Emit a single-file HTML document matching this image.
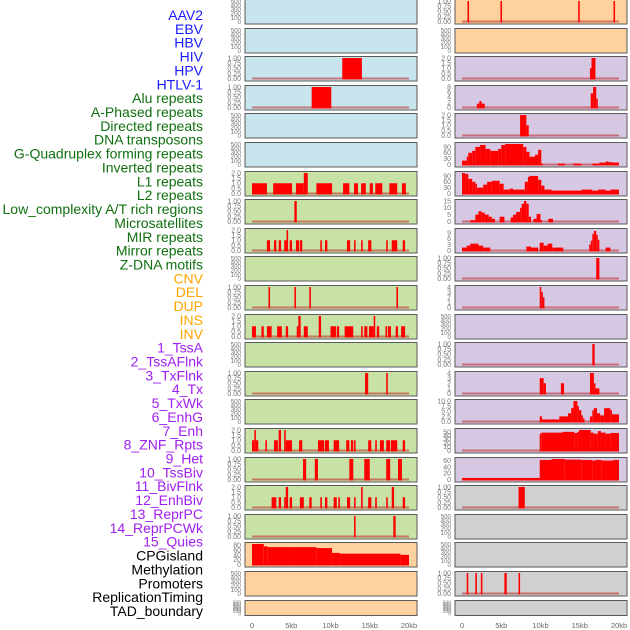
<!DOCTYPE html>
<html><head><meta charset="utf-8">
<style>
html,body{margin:0;padding:0;background:#fff;}
svg{display:block;font-family:"Liberation Sans",sans-serif;}
</style></head>
<body>
<svg id="chart" width="630" height="630" viewBox="0 0 630 630" xmlns="http://www.w3.org/2000/svg">
<g id="labels"></g>
<g id="panels"></g>
<g id="xaxes"></g>
</svg>
<script>
// ---- data ----
const trackLabels = ["AAV2","EBV","HBV","HIV","HPV","HTLV-1","Alu repeats","A-Phased repeats","Directed repeats","DNA transposons","G-Quadruplex forming repeats","Inverted repeats","L1 repeats","L2 repeats","Low_complexity A/T rich regions","Microsatellites","MIR repeats","Mirror repeats","Z-DNA motifs","CNV","DEL","DUP","INS","INV","1_TssA","2_TssAFlnk","3_TxFlnk","4_Tx","5_TxWk","6_EnhG","7_Enh","8_ZNF_Rpts","9_Het","10_TssBiv","11_BivFlnk","12_EnhBiv","13_ReprPC","14_ReprPCWk","15_Quies","CPGisland","Methylation","Promoters","ReplicationTiming","TAD_boundary"];
const labelColors = ["#1a1aff","#1a1aff","#1a1aff","#1a1aff","#1a1aff","#1a1aff","#107010","#107010","#107010","#107010","#107010","#107010","#107010","#107010","#107010","#107010","#107010","#107010","#107010","#ffa500","#ffa500","#ffa500","#ffa500","#ffa500","#a020f0","#a020f0","#a020f0","#a020f0","#a020f0","#a020f0","#a020f0","#a020f0","#a020f0","#a020f0","#a020f0","#a020f0","#a020f0","#a020f0","#a020f0","#000","#000","#000","#000","#000"];
const xTickValues = [0,5,10,15,20];
const xTickLabels = ["0","5kb","10kb","15kb","20kb"];

const tickE = [0,100,200,300,400,500], tickEL = ["0","100","200","300","400","500"];
const tickU1 = [0,0.25,0.5,0.75,1], tickU1L = ["0.00","0.25","0.50","0.75","1.00"];
const tickU2 = [0,0.5,1,1.5,2], tickU2L = ["0.0","0.5","1.0","1.5","2.0"];
const tickU8 = [0,2,4,6,8], tickU8L = ["0","2","4","6","8"];
const tickU90 = [0,30,60,90], tickU90L = ["0","30","60","90"];
const tickU15 = [0,5,10,15], tickU15L = ["0","5","10","15"];
const tickU9 = [0,3,6,9], tickU9L = ["0","3","6","9"];
const tickU4 = [0,1,2,3,4], tickU4L = ["0","1","2","3","4"];
const tickU10 = [0,2.5,5,7.5,10], tickU10L = ["0.0","2.5","5.0","7.5","10.0"];
const tickU50 = [0,10,20,30,40,50], tickU50L = ["0","10","20","30","40","50"];
const tickU60 = [0,20,40,60], tickU60L = ["0","20","40","60"];
const tickU80 = [0,20,40,60,80], tickU80L = ["0","20","40","60","80"];

// segments: [startKb, endKb, value]
const segHBV = [[11.5,14.0,1]];
const segHIV = [[7.6,10.1,1]];
const segL6 = [[0,1.9,1],[2.7,5.1,1],[5.6,6.6,1],[6.6,7.1,2],[8.2,10.2,1],[11.6,12.4,1],[13,13.5,1],[13.9,14.5,1],[15,15.4,1],[15.7,16.6,1],[17.5,18.5,1],[19.1,19.6,1]];
const segL7 = [[5.4,5.7,1]];
const segL8 = [[1.9,2.3,1],[2.8,3.1,1],[3.4,3.7,1],[4.1,4.4,1],[4.4,4.6,2],[4.8,5.1,1],[5.6,6.0,1],[6.1,6.4,1],[8.7,8.9,1],[9.3,9.6,1],[12.1,12.5,1],[13,13.2,1],[13.9,14.1,1],[14.8,15.2,1],[17.1,17.3,1],[17.8,18.5,1],[19.2,19.5,1]];
const segL10 = [[2.1,2.3,1],[5.4,5.6,1],[7.3,7.5,1],[18.4,18.6,1]];
const segL11 = [[0,0.5,1],[1.2,1.5,1],[1.9,2.5,1],[3.2,3.8,1],[4.3,4.6,1],[5.7,5.9,1],[5.9,6.2,2],[6.6,7.1,1],[8.5,8.8,2],[10,10.7,1],[10.8,11.1,1],[11.8,12.9,1],[13.9,14.1,1],[14.3,14.7,1],[14.9,15.5,1],[15.5,15.7,2],[15.9,16.2,1],[17,17.2,1],[17.3,17.7,1],[18.3,18.6,1],[19,19.5,1]];
const segL13 = [[14.4,14.8,1],[17.1,17.3,1]];
const segL15 = [[0,0.3,1],[0.3,0.5,2],[0.5,0.8,1],[1.7,1.9,1],[2.8,3.3,1],[3.4,3.7,2],[4.1,4.3,2],[4.3,5.1,1],[6,6.4,1],[8.4,9.2,1],[9.3,9.8,1],[10.4,11.1,1],[12,12.4,1],[12.6,12.9,1],[13,13.2,1],[14.8,15.2,1],[15.7,15.9,1],[16.3,16.8,1],[17.1,17.6,1],[17.7,18.5,1],[19.2,19.5,1]];
const segL16 = [[6.5,6.9,1],[8,8.4,1],[12.4,12.9,1],[14.3,15,1],[17.1,17.6,1],[18.6,19.1,1]];
const segL17 = [[2.5,3.1,1],[3.4,3.7,1],[4.1,4.3,1],[4.3,4.6,2],[4.8,5.1,1],[6.1,6.6,1],[7.3,7.6,1],[8.7,8.9,1],[9.3,9.6,1],[10.4,10.8,1],[11,11.2,1],[12.1,12.5,1],[13,13.2,1],[13.9,14.1,2],[14.8,15.2,1],[15.7,15.9,1],[17.1,17.3,1],[17.8,18.1,2],[19.2,19.5,1]];
const segL18 = [[13,13.2,1],[18,18.3,1]];
const segL19 = [[0,1.5,85],[1.5,2,75],[2,4.9,72],[4.9,8.2,72],[8.2,10.2,68],[10.2,11.2,48],[11.2,18.9,45],[18.9,20,40]];

const segR0 = [[0.7,0.9,1],[4.9,5.1,1],[14.8,15.0,1],[19.3,19.5,1]];
const segR2 = [[16.3,16.5,1],[16.5,17,2]];
const segR3 = [[1.9,2.2,1.5],[2.2,2.5,2.5],[2.5,2.9,1.5],[16.4,16.7,5.5],[16.7,17.1,8],[17.1,17.3,3.5]];
const segR4 = [[7.4,8.2,2],[8.2,8.5,1]];
const segR5 = [[0,0.6,20],[0.6,0.8,40],[0.8,1.3,60],[1.3,1.7,70],[1.7,2.3,90],[2.3,3,100],[3,3.6,80],[3.6,4.6,70],[4.6,5,80],[5,5.5,100],[5.5,7.8,105],[7.8,8.2,90],[8.2,8.6,65],[8.6,9.3,40],[9.3,9.7,50],[9.7,10.1,75],[10.1,10.3,5],[12.2,13.1,5],[14.2,15.2,5],[16.6,17.5,5],[17.5,18.3,10],[18.3,18.7,15],[18.7,19.2,12],[19.2,20,10]];
const segR6 = [[0,0.4,105],[0.4,0.8,100],[0.8,1.3,75],[1.3,1.7,60],[1.7,1.9,50],[1.9,2.7,30],[2.7,3.2,45],[3.2,3.8,60],[3.8,4.8,65],[4.8,5.3,50],[5.3,6.1,20],[6.1,6.5,25],[6.5,8,20],[8,8.4,60],[8.4,8.6,85],[8.6,9.7,90],[9.7,10.1,70],[10.1,10.5,40],[10.5,11.4,20],[11.4,15.2,15],[15.2,16.6,20],[16.6,17.3,15],[17.3,18.3,20],[18.3,18.9,15],[18.9,20,20]];
const segR7 = [[1.05,1.7,1],[1.7,2.1,5],[2.1,2.5,7.5],[2.5,2.9,6.5],[2.9,3.4,5],[3.4,3.8,3.5],[3.8,4.2,2],[4.8,5.4,3.5],[6.2,6.5,3],[6.5,6.9,5],[6.9,7.4,7],[7.4,7.6,10],[7.6,7.9,13],[7.9,8.2,15],[8.2,8.5,13],[8.5,8.8,3.5],[9.1,9.5,2],[9.5,10,5.5],[10,10.1,1],[11,11.6,2]];
const segR8 = [[0,0.6,1.5],[0.6,1.05,2.5],[1.05,2.1,3.5],[2.1,2.7,2.5],[2.7,3.6,1.5],[8.2,8.8,2],[8.8,9.7,1.5],[9.9,10.4,4],[10.4,10.9,2.5],[10.9,11.5,3.5],[11.5,12.9,1.5],[16.2,16.4,3],[16.4,16.6,5],[16.6,16.8,8.5],[16.8,17.1,10],[17.1,17.3,8],[17.3,17.5,5.5],[18.3,18.9,1.5]];
const segR9 = [[17.1,17.5,1]];
const segR10 = [[9.9,10.1,4],[10.1,10.3,3],[10.3,10.5,2]];
const segR12 = [[16.6,16.9,1]];
const segR13 = [[9.9,10.4,3],[10.4,10.7,2],[12.6,13,2],[16.3,16.8,4],[16.8,17,2],[17,17.5,1]];
const segR14 = [[9.9,10.2,2.5],[10.2,12.4,1],[12.4,13.5,2.5],[13.5,13.9,4],[13.9,14.2,6.5],[14.2,14.7,10],[14.7,14.9,7.5],[14.9,15.2,5.5],[15.2,15.4,3],[15.4,15.6,1.5],[16.3,16.6,2.5],[16.6,16.8,5.5],[16.8,17.2,6.5],[17.2,17.6,4],[17.6,18.1,3],[18.1,18.9,6.5],[18.9,19.1,5.5],[19.1,20,3.5]];
const segR15 = [[9.9,10.1,45],[10.1,12.8,48],[12.8,14.3,50],[14.3,14.7,47],[14.7,14.9,50],[14.9,16.4,55],[16.4,16.8,48],[16.8,17.3,45],[17.3,17.7,52],[17.7,18.3,48],[18.3,18.9,45],[18.9,20,47]];
const segR16 = [[0,9.9,5],[9.9,11.4,62],[11.4,13.1,65],[13.1,15.2,63],[15.2,16.6,62],[16.6,17.0,60],[17.0,17.8,62],[17.8,19.3,60],[19.3,20,62]];
const segR17 = [[7.2,8.0,1]];
const segR20 = [[0.6,0.8,1],[1.7,1.9,1],[2.4,2.6,1],[5.4,5.7,1],[7.2,7.4,1]];

const BLUE="#c8e4ec", GREEN="#c8e2a6", ORANGE="#ffd19e", PURPLE="#d6c7e3", GRAY="#d0d0d0";
const leftPanels = [
 [BLUE,tickE,tickEL,500,null],[BLUE,tickE,tickEL,500,null],
 [BLUE,tickU1,tickU1L,1,segHBV],[BLUE,tickU1,tickU1L,1,segHIV],
 [BLUE,tickE,tickEL,500,null],[BLUE,tickE,tickEL,500,null],
 [GREEN,tickU2,tickU2L,2,segL6],[GREEN,tickU1,tickU1L,1,segL7],[GREEN,tickU2,tickU2L,2,segL8],
 [GREEN,tickE,tickEL,500,null],[GREEN,tickU1,tickU1L,1,segL10],[GREEN,tickU2,tickU2L,2,segL11],
 [GREEN,tickE,tickEL,500,null],[GREEN,tickU1,tickU1L,1,segL13],[GREEN,tickE,tickEL,500,null],
 [GREEN,tickU2,tickU2L,2,segL15],[GREEN,tickU1,tickU1L,1,segL16],[GREEN,tickU2,tickU2L,2,segL17],
 [GREEN,tickU1,tickU1L,1,segL18],[ORANGE,tickU80,tickU80L,85,segL19],
 [ORANGE,tickE,tickEL,500,null],[ORANGE,tickE,tickEL,500,null]
];
const rightPanels = [
 [ORANGE,tickU1,tickU1L,1,segR0],[ORANGE,tickE,tickEL,500,null],
 [PURPLE,tickU2,tickU2L,2,segR2],[PURPLE,tickU8,tickU8L,8,segR3],[PURPLE,tickU2,tickU2L,2,segR4],
 [PURPLE,tickU90,tickU90L,105,segR5],[PURPLE,tickU90,tickU90L,105,segR6],[PURPLE,tickU15,tickU15L,15,segR7],
 [PURPLE,tickU9,tickU9L,10.5,segR8],[PURPLE,tickU1,tickU1L,1,segR9],[PURPLE,tickU4,tickU4L,4,segR10],
 [PURPLE,tickE,tickEL,500,null],[PURPLE,tickU1,tickU1L,1,segR12],[PURPLE,tickU4,tickU4L,4,segR13],
 [PURPLE,tickU10,tickU10L,10,segR14],[PURPLE,tickU50,tickU50L,55,segR15],[PURPLE,tickU60,tickU60L,65,segR16],
 [GRAY,tickU1,tickU1L,1,segR17],[GRAY,tickE,tickEL,500,null],[GRAY,tickE,tickEL,500,null],
 [GRAY,tickU1,tickU1L,1,segR20],[GRAY,tickE,tickEL,500,null]
];

// ---- drawing ----
const NS="http://www.w3.org/2000/svg";
function mk(tag, attrs, parent){const e=document.createElementNS(NS,tag);for(const k in attrs)e.setAttribute(k,attrs[k]);parent.appendChild(e);return e;}
const gL=document.getElementById('labels'), gP=document.getElementById('panels'), gX=document.getElementById('xaxes');

trackLabels.forEach((t,i)=>{
  const el=mk('text',{x:203,y:15+i*13.86+5,'text-anchor':'end','font-size':'14',fill:labelColors[i]},gL);
  
  
  el.textContent=t;
});

function drawColumn(panels, px, x0, side){
  const pw=172, kb=7.85;
  const xs=v=>x0+v*kb;
  panels.forEach((p,i)=>{
    const [bg,ticks,tl,dmax,segs]=p;
    const top=Math.round(i*28.6)-0.5, h=(i===21?15:24.5);
    const g=mk('g',{},gP);
    
    
    const y0=top+h-2.5, y1=top+1.5;
    const ys=v=>y0-(v/dmax)*(y0-y1);
    const bgr=mk('rect',{x:px,y:top,width:pw,height:h,fill:bg,stroke:'#5a5a5a','stroke-width':1},g);
    
    
    const fs = i===21 ? '5' : (segs ? '7' : '6.2');
    ticks.forEach((tv,k)=>{
      const tx=mk('text',{x:px-4,y:ys(tv)+2.4,'text-anchor':'end','font-size':fs,fill:'#777'},g);
      
      
      tx.textContent=tl[k];
    });
    if(segs){
      const bl=mk('line',{x1:xs(0),x2:xs(20),y1:y0,y2:y0,stroke:'#c03030','stroke-opacity':0.6,'stroke-width':2},g);
      
      
      segs.forEach(s=>{
        const yt=Math.max(ys(s[2]),top+0.5);
        const r=mk('rect',{x:xs(s[0]),y:yt,width:Math.max(xs(s[1])-xs(s[0]),1.5),height:y0+1-yt,fill:'#ff0000'},g);
        
        
      });
    }
  });
  xTickValues.forEach((v,k)=>{
    const t=mk('text',{x:xs(v),y:628,'text-anchor':'middle','font-size':'7.5',fill:'#666'},gX);
    
    
    t.textContent=xTickLabels[k];
  });
}
drawColumn(leftPanels,245,252,'left');
drawColumn(rightPanels,455,462,'right');
</script>
</body></html>
